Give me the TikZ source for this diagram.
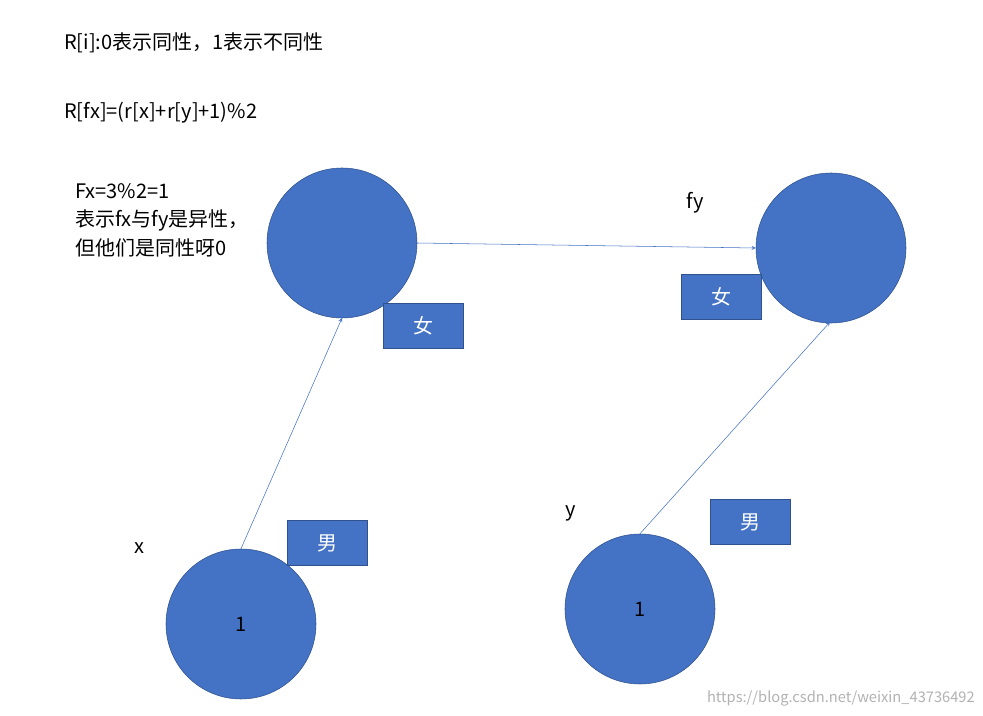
\documentclass[tikz,border=0pt]{standalone}
\usepackage{fontspec}
\setmainfont{Noto Sans CJK SC}
\definecolor{fillblue}{HTML}{4472C4}
\definecolor{edgeblue}{HTML}{2F528F}
\tikzset{
  person/.style={circle,draw=edgeblue,fill=fillblue,minimum size=112.5pt,inner sep=0pt,font=\fontsize{15}{18}\selectfont},
  sexbox/.style={draw=edgeblue,fill=fillblue,text=white,minimum width=60pt,minimum height=34pt,inner sep=0pt,font=\fontsize{15}{18}\selectfont},
  link/.style={fillblue,thin,-stealth},
  lbl/.style={font=\fontsize{15}{18}\selectfont,inner sep=0pt}
}
\begin{document}
\begin{tikzpicture}[x=0.75pt,y=-0.75pt]
  \path[use as bounding box,fill=white] (0,0) rectangle (983,716);

  \node[person] (fx) at (342,243) {};
  \node[person] (fy) at (831,248) {};
  \node[person] (x) at (241,624) {1};
  \node[person] (y) at (640,609) {1};

  \node[sexbox] (sfx) at (423,326) {女};
  \node[sexbox] (sfy) at (721,297) {女};
  \node[sexbox] (sx) at (327,543) {男};
  \node[sexbox] (sy) at (750,522) {男};

  \draw[link] (x.north) -- (342,318);
  \draw[link] (y.north) -- (830,322);
  \draw[link] (fx.east) -- (fy.west);

  \node[lbl,anchor=west] (rule) at (64,43) {R[i]:0表示同性，1表示不同性};
  \node[lbl,anchor=west] (formula) at (64,113) {R[fx]=(r[x]+r[y]+1)\%2};
  \node[lbl,anchor=north west,align=left,font=\fontsize{15}{21.5}\selectfont] (note) at (75,183)
    {Fx=3\%2=1\\表示fx与fy是异性，\\但他们是同性呀0};
  \node[lbl] (lfy) at (695,203) {fy};
  \node[lbl] (lx) at (139,548) {x};
  \node[lbl] (ly) at (571,513) {y};
  \node[lbl,text=gray!60,font=\fontsize{11}{13}\selectfont,anchor=east] (mark) at (975,698) {https://blog.csdn.net/weixin\_43736492};
\end{tikzpicture}
\end{document}
